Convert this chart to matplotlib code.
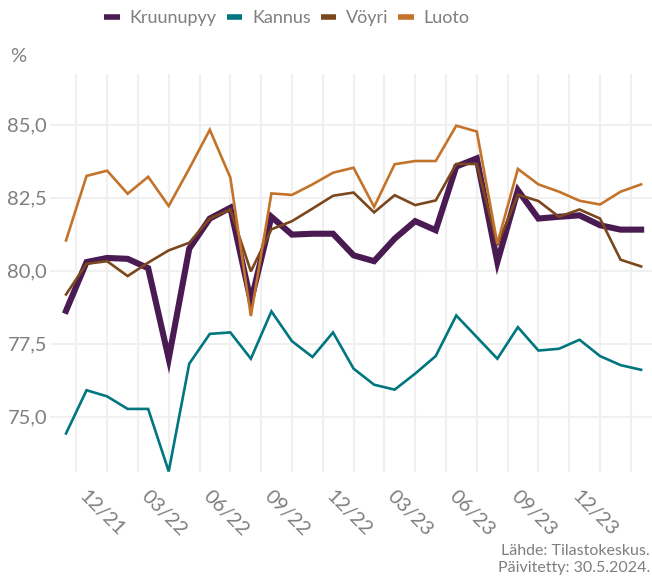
import matplotlib
matplotlib.use("Agg")
import matplotlib.pyplot as plt
from matplotlib.transforms import ScaledTranslation
import numpy as np

# monthly share (%), 10/2021 .. 02/2024
months = ["10/21", "11/21", "12/21", "01/22", "02/22", "03/22", "04/22", "05/22", "06/22",
          "07/22", "08/22", "09/22", "10/22", "11/22", "12/22", "01/23", "02/23", "03/23",
          "04/23", "05/23", "06/23", "07/23", "08/23", "09/23", "10/23", "11/23", "12/23",
          "01/24", "02/24"]

kruunupyy = [78.63, 80.30, 80.44, 80.41, 80.09, 76.99, 80.76, 81.79, 82.16, 78.95,
             81.85, 81.24, 81.27, 81.27, 80.53, 80.33, 81.10, 81.70, 81.39, 83.57,
             83.85, 80.30, 82.76, 81.79, 81.85, 81.90, 81.56, 81.41, 81.41]
kannus = [74.43, 75.91, 75.70, 75.27, 75.27, 73.13, 76.82, 77.84, 77.89, 76.99,
          78.61, 77.59, 77.05, 77.89, 76.65, 76.10, 75.93, 76.48, 77.08, 78.47,
          77.73, 76.99, 78.07, 77.27, 77.33, 77.64, 77.08, 76.77, 76.61]
voyri = [79.19, 80.24, 80.33, 79.82, 80.28, 80.70, 80.96, 81.79, 82.10, 79.98,
         81.42, 81.70, 82.13, 82.57, 82.68, 82.00, 82.59, 82.25, 82.41, 83.66,
         83.66, 80.88, 82.61, 82.39, 81.85, 82.10, 81.79, 80.38, 80.15]
luoto = [81.04, 83.25, 83.43, 82.64, 83.22, 82.22, 83.50, 84.83, 83.19, 78.45,
         82.65, 82.60, 82.96, 83.36, 83.53, 82.19, 83.65, 83.76, 83.76, 84.97,
         84.77, 80.93, 83.49, 82.96, 82.71, 82.40, 82.27, 82.71, 82.96]

tick_labels = ["12/21", "03/22", "06/22", "09/22", "12/22", "03/23", "06/23", "09/23", "12/23"]
y_ticks = [75.0, 77.5, 80.0, 82.5, 85.0]

series = [
    ("Kruunupyy", kruunupyy, "#4a1b52", 4.4),
    ("Kannus", kannus, "#00767f", 1.9),
    ("Vöyri", voyri, "#7a481c", 1.9),
    ("Luoto", luoto, "#c4732a", 1.9),
]

plt.rcParams["font.family"] = ["Lato", "DejaVu Sans"]
grey = "#7f7f7f"

fig = plt.figure(figsize=(6.52, 5.79), dpi=100)
ax = fig.add_axes([50 / 652, 1 - 472 / 579, 1 - 50 / 652, (472 - 74) / 579])

x = np.arange(len(months))
for name, vals, col, lw in series:
    ax.plot(x, vals, color=col, lw=lw, label=name, solid_joinstyle="miter", zorder=3)

ax.set_xlim(-0.78, 28.53)
ax.set_ylim(73.11, 86.74)

tick_pos = [months.index(t) for t in tick_labels]
ax.set_xticks(tick_pos)
ax.set_xticklabels(tick_labels)
ax.set_xticks([p - 1.5 for p in tick_pos] + [tick_pos[-1] + 1.5], minor=True)
ax.set_yticks(y_ticks)
ax.set_yticklabels([f"{v:.1f}".replace(".", ",") for v in y_ticks])

ax.grid(True, which="both", axis="x", color="#f0f0f0", lw=1.5, zorder=0)
ax.grid(True, which="major", axis="y", color="#f0f0f0", lw=1.5, zorder=0)
for s in ax.spines.values():
    s.set_visible(False)
ax.tick_params(which="both", length=0, pad=2, colors=grey, labelsize=14.5)
ax.tick_params(axis="x", pad=0)

offset = ScaledTranslation(-0.05, -0.41, fig.dpi_scale_trans)
for lab in ax.get_xticklabels():
    lab.set_rotation(-45)
    lab.set_ha("center")
    lab.set_va("center")
    lab.set_rotation_mode("anchor")
    lab.set_transform(lab.get_transform() + offset)

fig.text(10 / 652, 1 - 57 / 579, "%", color=grey, fontsize=14.5, va="center")

fig.legend(loc="center", bbox_to_anchor=(287 / 652, 1 - 18 / 579), ncol=4, frameon=False,
           fontsize=13, handlelength=0.85, handletextpad=0.55, columnspacing=0.55,
           labelcolor=grey)
for h in fig.legends[0].get_lines():
    h.set_linewidth(4)
    h.set_solid_capstyle("butt")

fig.text(650 / 652, 1 - 551 / 579, "Lähde: Tilastokeskus.", color=grey, fontsize=11.5,
         ha="right", va="center")
fig.text(650 / 652, 1 - 568 / 579, "Päivitetty: 30.5.2024.", color=grey, fontsize=11.5,
         ha="right", va="center")

fig.savefig("out.png", dpi=100)
